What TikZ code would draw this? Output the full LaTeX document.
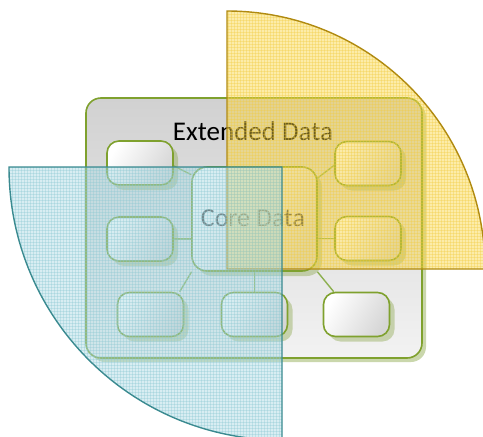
\documentclass[tikz,border=0pt]{standalone}
\usepackage{fontspec}
\setmainfont{Carlito}
\usetikzlibrary{patterns,shadows,calc}
\definecolor{grn}{HTML}{7FA12E}
\definecolor{lnk}{HTML}{8DB050}
\definecolor{shd}{HTML}{7A9A30}
\definecolor{yfill}{HTML}{F8D440}
\definecolor{ygrid}{HTML}{F2CC40}
\definecolor{yline}{HTML}{B08A10}
\definecolor{bfill}{HTML}{A8D8E2}
\definecolor{bgrid}{HTML}{8CC8D2}
\definecolor{bline}{HTML}{3A8A90}
\tikzset{
  outerbox/.style={draw=grn, line width=1.6pt, rounded corners=15pt,
    minimum width=336pt, minimum height=260pt, top color=black!18, bottom color=black!5,
    drop shadow={shadow xshift=4pt, shadow yshift=-4pt, fill=shd, opacity=.4}},
  smallbox/.style={draw=grn, line width=1.6pt, rounded corners=12pt,
    minimum width=66pt, minimum height=44pt, inner sep=0pt,
    shading=axis, left color=white, right color=black!16, shading angle=60,
    drop shadow={shadow xshift=5pt, shadow yshift=-5pt, fill=shd, opacity=.35}},
  corebox/.style={smallbox, rounded corners=15pt, minimum width=125pt, minimum height=104pt},
  link/.style={draw=lnk, line width=1.4pt},
}
\begin{document}
\begin{tikzpicture}[x=1pt,y=-1pt]
\useasboundingbox (0,0) rectangle (483,437);
% extended data box
\node[outerbox] (ext) at (254,228) {};
\node[font=\fontsize{27}{31}\selectfont, text=black] (extlabel) at (253,131) {Extended Data};
% core and satellites
\node[smallbox] (tl) at (140,163) {};
\node[smallbox] (ml) at (140,239) {};
\node[smallbox] (bl) at (150.5,314.5) {};
\node[smallbox] (bm) at (254.5,314.5) {};
\node[smallbox] (br) at (356.5,314.5) {};
\node[smallbox] (rt) at (368,163.5) {};
\node[smallbox] (rm) at (368,238.5) {};
\node[corebox] (core) at (254.5,219) {};
\node[font=\fontsize{26}{30}\selectfont, text=black!70] (corelabel) at (253,218) {Core Data};
\draw[link] (tl.-5) -- (core.145);
\draw[link] (ml.east) -- (ml.east -| core.west);
\draw[link] (bl.38) -- (core.220);
\draw[link] (bm.north) -- (core.south);
\draw[link] (br.135) -- (core.-40);
\draw[link] (rt.183) -- (core.33);
\draw[link] (rm.west) -- (rm.west -| core.east);
% yellow quarter
\coordinate (yc) at (227,269);
\fill[yfill, opacity=.45] (yc) -- (227,11) arc[start angle=90, end angle=0, radius=258pt] -- cycle;
\fill[pattern=grid, pattern color=ygrid, opacity=.35] (yc) -- (227,11) arc[start angle=90, end angle=0, radius=258pt] -- cycle;
\draw[yline, line width=1.4pt] (yc) -- (227,11) arc[start angle=90, end angle=0, radius=258pt] -- cycle;
% blue quarter
\coordinate (bc) at (282,167);
\fill[bfill, opacity=.45] (bc) -- (9,167) arc[start angle=180, end angle=270, radius=273pt] -- cycle;
\fill[pattern=grid, pattern color=bgrid, opacity=.35] (bc) -- (9,167) arc[start angle=180, end angle=270, radius=273pt] -- cycle;
\draw[bline, line width=1.4pt] (bc) -- (9,167) arc[start angle=180, end angle=270, radius=273pt] -- cycle;
\end{tikzpicture}
\end{document}
